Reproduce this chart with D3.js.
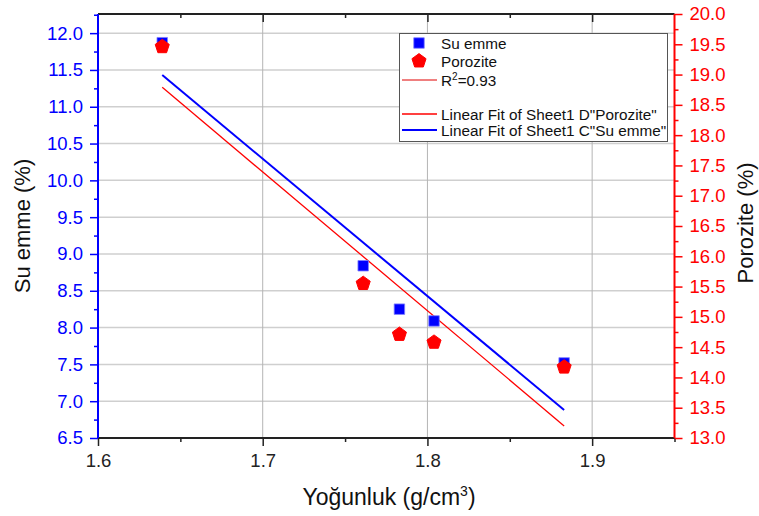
<!DOCTYPE html>
<html>
<head>
<meta charset="utf-8">
<script src="https://cdn.jsdelivr.net/npm/d3@7"></script>
<style>
  body { margin: 0; background: #fff; }
  svg { font-family: "Liberation Sans", Arial, sans-serif; }
</style>
</head>
<body>
<svg id="chart" width="759" height="516"></svg>
<script>
// values
var density = [1.639, 1.761, 1.783, 1.804, 1.883];
var suEmme = [11.87, 8.84, 8.25, 8.09, 7.52];
var porozite = [19.46, 15.55, 14.71, 14.58, 14.17];

// fitted lines, ends as seen in the picture
var fitX = [1.639, 1.883];
var fitSuEmme = [11.43, 6.88];
var fitPorozite = [18.79, 13.20];

var xTicks = [1.6, 1.7, 1.8, 1.9];
var leftTicks = [6.5, 7.0, 7.5, 8.0, 8.5, 9.0, 9.5, 10.0, 10.5, 11.0, 11.5, 12.0];
var rightTicks = [13.0, 13.5, 14.0, 14.5, 15.0, 15.5, 16.0, 16.5, 17.0, 17.5, 18.0, 18.5, 19.0, 19.5, 20.0];

var legendItems = ["Su emme", "Porozite", "R2=0.93", "", "Linear Fit of Sheet1 D\"Porozite\"", "Linear Fit of Sheet1 C\"Su emme\""];

// "top" is taken by window.top, so plot edges get their own names
var plotL = 98, plotR = 674.5, plotT = 14, plotB = 438;
var BLUE = "#0000ff", RED = "#ff0000";
var TICK_FONT = 18.5;

var svg = d3.select("#chart");

var x = d3.scaleLinear().domain([1.6, 1.95]).range([plotL, plotR]);
var yL = d3.scaleLinear().domain([6.5, 12.26]).range([plotB, plotT]);
var yR = d3.scaleLinear().domain([13, 20]).range([plotB, plotT]);

// grid
svg.append("g").selectAll("line")
    .data(leftTicks.slice(1))
    .enter().append("line")
    .attr("x1", plotL).attr("x2", plotR)
    .attr("y1", function(d) { return yL(d); })
    .attr("y2", function(d) { return yL(d); })
    .attr("stroke", "#cfcfcf").attr("stroke-width", 1.5);

svg.append("g").selectAll("line")
    .data(xTicks.slice(1))
    .enter().append("line")
    .attr("x1", function(d) { return x(d); })
    .attr("x2", function(d) { return x(d); })
    .attr("y1", plotT).attr("y2", plotB)
    .attr("stroke", "#b4b4b4").attr("stroke-width", 1);

// fit lines
var lineL = d3.line().x(function(d, i) { return x(fitX[i]); }).y(function(d) { return yL(d); });
var lineR = d3.line().x(function(d, i) { return x(fitX[i]); }).y(function(d) { return yR(d); });

svg.append("path").attr("d", lineR(fitPorozite))
    .attr("fill", "none").attr("stroke", RED).attr("stroke-width", 1.3);
svg.append("path").attr("d", lineL(fitSuEmme))
    .attr("fill", "none").attr("stroke", BLUE).attr("stroke-width", 2);

// pentagon symbol
var pentagon = {
    draw: function(context, size) {
        var r = Math.sqrt(size / 2.378);
        for (var k = 0; k < 5; k++) {
            var a = -Math.PI / 2 + k * 2 * Math.PI / 5;
            if (k == 0) context.moveTo(r * Math.cos(a), r * Math.sin(a));
            else context.lineTo(r * Math.cos(a), r * Math.sin(a));
        }
        context.closePath();
    }
};

// markers
svg.append("g").selectAll("path")
    .data(suEmme)
    .enter().append("path")
    .attr("transform", function(d, i) { return "translate(" + x(density[i]) + "," + yL(d) + ")"; })
    .attr("d", d3.symbol().type(d3.symbolSquare).size(110))
    .attr("fill", BLUE).attr("stroke", "#8080ff").attr("stroke-width", 0.8);

svg.append("g").selectAll("path")
    .data(porozite)
    .enter().append("path")
    .attr("transform", function(d, i) { return "translate(" + x(density[i]) + "," + yR(d) + ")"; })
    .attr("d", d3.symbol().type(pentagon).size(130))
    .attr("fill", RED).attr("stroke", RED).attr("stroke-width", 1).attr("stroke-linejoin", "round");

// axes
function styleAxis(g, color, fontSize) {
    g.select(".domain").remove();
    g.selectAll(".tick line").attr("stroke", color).attr("stroke-width", 1.5);
    g.selectAll(".tick text").attr("fill", color).attr("font-size", fontSize)
        .attr("font-family", "Liberation Sans, Arial, sans-serif");
}

var fmt1 = d3.format(".1f");

var gb = svg.append("g").attr("transform", "translate(0," + plotB + ")")
    .call(d3.axisBottom(x).tickValues(xTicks).tickSize(8).tickPadding(8).tickFormat(fmt1));
styleAxis(gb, "#222", TICK_FONT);
var gbm = svg.append("g").attr("transform", "translate(0," + plotB + ")")
    .call(d3.axisBottom(x).tickValues([1.65, 1.75, 1.85, 1.95]).tickSize(4).tickFormat(""));
styleAxis(gbm, "#222", 0);

var gt = svg.append("g").attr("transform", "translate(0," + plotT + ")")
    .call(d3.axisBottom(x).tickValues(xTicks.slice(1)).tickSize(8).tickFormat(""));
styleAxis(gt, "#222", 0);
var gtm = svg.append("g").attr("transform", "translate(0," + plotT + ")")
    .call(d3.axisBottom(x).tickValues([1.65, 1.75, 1.85]).tickSize(4).tickFormat(""));
styleAxis(gtm, "#222", 0);

var gl = svg.append("g").attr("transform", "translate(" + plotL + ",0)")
    .call(d3.axisLeft(yL).tickValues(leftTicks).tickSize(8).tickPadding(7).tickFormat(fmt1));
styleAxis(gl, BLUE, TICK_FONT);
var glm = svg.append("g").attr("transform", "translate(" + plotL + ",0)")
    .call(d3.axisLeft(yL).tickValues(d3.range(6.75, 12.26, 0.5)).tickSize(4).tickFormat(""));
styleAxis(glm, BLUE, 0);

var gr = svg.append("g").attr("transform", "translate(" + plotR + ",0)")
    .call(d3.axisRight(yR).tickValues(rightTicks).tickSize(8).tickPadding(7).tickFormat(fmt1));
styleAxis(gr, RED, TICK_FONT);
var grm = svg.append("g").attr("transform", "translate(" + plotR + ",0)")
    .call(d3.axisRight(yR).tickValues(d3.range(13.25, 20, 0.5)).tickSize(4).tickFormat(""));
styleAxis(grm, RED, 0);

// frame lines
svg.append("line").attr("x1", plotL).attr("x2", plotR).attr("y1", plotT).attr("y2", plotT)
    .attr("stroke", "#222").attr("stroke-width", 2);
svg.append("line").attr("x1", plotL).attr("x2", plotR).attr("y1", plotB).attr("y2", plotB)
    .attr("stroke", "#222").attr("stroke-width", 2);
svg.append("line").attr("x1", plotL).attr("x2", plotL).attr("y1", plotT).attr("y2", plotB)
    .attr("stroke", BLUE).attr("stroke-width", 2);
svg.append("line").attr("x1", plotR).attr("x2", plotR).attr("y1", plotT).attr("y2", plotB)
    .attr("stroke", RED).attr("stroke-width", 2);

// axis titles
var xt = svg.append("text").attr("x", 389).attr("y", 505)
    .attr("text-anchor", "middle").attr("font-size", 23).attr("fill", "#111");
xt.append("tspan").text("Yoğunluk (g/cm");
xt.append("tspan").text("3").attr("font-size", 14).attr("dy", -9);
xt.append("tspan").text(")").attr("dy", 9);

svg.append("text").attr("transform", "translate(30,226) rotate(-90)")
    .attr("text-anchor", "middle").attr("font-size", 22).attr("fill", "#111")
    .text("Su emme (%)");

svg.append("text").attr("transform", "translate(753,223) rotate(-90)")
    .attr("text-anchor", "middle").attr("font-size", 22).attr("fill", "#111")
    .text("Porozite (%)");

// legend
var lg = svg.append("g");
lg.append("rect").attr("x", 399.5).attr("y", 33.5).attr("width", 268).attr("height", 108)
    .attr("fill", "#fff").attr("stroke", "#555").attr("stroke-width", 1);

var rowY = [43, 61, 80, 97, 114, 130];
lg.selectAll("text.item")
    .data(legendItems)
    .enter().append("text")
    .attr("class", "item")
    .attr("x", 441)
    .attr("y", function(d, i) { return rowY[i] + 5.5; })
    .attr("font-size", 15.3).attr("fill", "#111")
    .each(function(d) {
        var t = d3.select(this);
        if (d.indexOf("R2") == 0) {
            t.append("tspan").text("R");
            t.append("tspan").text("2").attr("font-size", 10).attr("dy", -6);
            t.append("tspan").text(d.slice(2)).attr("dy", 6);
        } else {
            t.text(d);
        }
    });

lg.append("path").attr("transform", "translate(419," + rowY[0] + ")")
    .attr("d", d3.symbol().type(d3.symbolSquare).size(110))
    .attr("fill", BLUE).attr("stroke", "#8080ff").attr("stroke-width", 0.8);
lg.append("path").attr("transform", "translate(419," + rowY[1] + ")")
    .attr("d", d3.symbol().type(pentagon).size(130))
    .attr("fill", RED).attr("stroke", RED).attr("stroke-width", 1);

var legendLines = [[2, "#e00000", 1], [4, RED, 1.3], [5, BLUE, 2]];
lg.selectAll("line.key")
    .data(legendLines)
    .enter().append("line")
    .attr("class", "key")
    .attr("x1", 402).attr("x2", 437)
    .attr("y1", function(d) { return rowY[d[0]]; })
    .attr("y2", function(d) { return rowY[d[0]]; })
    .attr("stroke", function(d) { return d[1]; })
    .attr("stroke-width", function(d) { return d[2]; });
</script>
</body>
</html>
